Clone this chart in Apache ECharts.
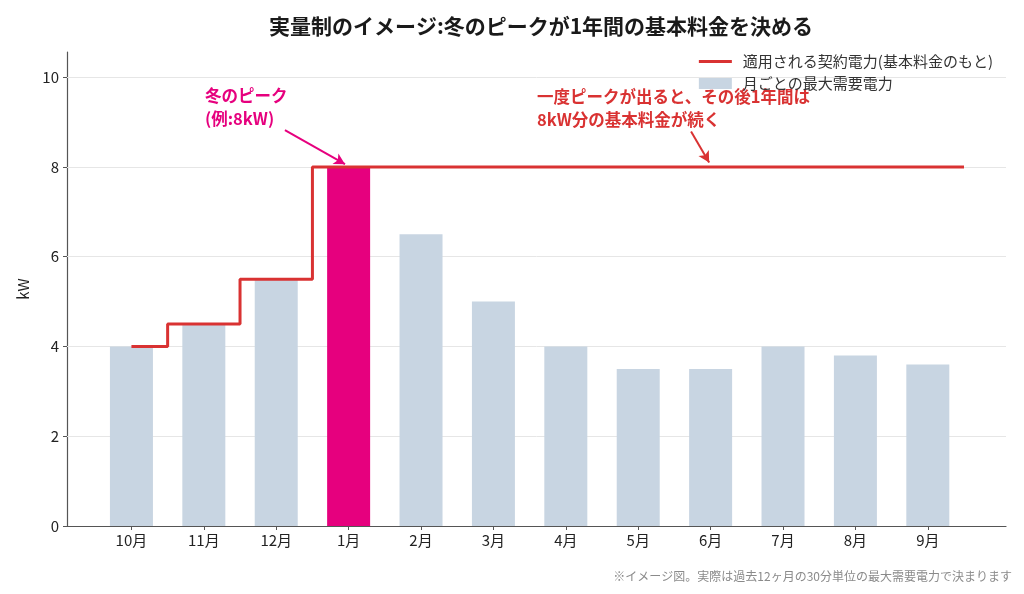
<!DOCTYPE html>
<html>
<head>
<meta charset="utf-8">
<script src="https://cdn.jsdelivr.net/npm/echarts@6/dist/echarts.min.js"></script>
<style>
  html, body {margin: 0; padding: 0; background: #fff;}
  #chart {width: 1024px; height: 594px;}
</style>
</head>
<body>
<div id="chart"></div>
<script>
(function(){
  'use strict';

  /*
    data
  */
  var months   = ['10月', '11月', '12月', '1月', '2月', '3月', '4月', '5月', '6月', '7月', '8月', '9月'];
  var demand   = [4, 4.5, 5.5, 8, 6.5, 5, 4, 3.5, 3.5, 4, 3.8, 3.6];
  var contract = [4, 4.5, 5.5, 8, 8, 8, 8, 8, 8, 8, 8, 8];
  var yTicks   = [0, 2, 4, 6, 8, 10];
  var peakIndex = 3;

  var font = '"Noto Sans CJK JP", "Noto Sans", sans-serif';
  var barColor = '#c8d5e2', peakColor = '#e6007e', lineColor = '#d93232';

  /*
    bar data: [month index, kW]
  */
  var barData = demand.map(function(v, i){
    return {
      value: [i, v],
      itemStyle: {color: i === peakIndex ? peakColor : barColor}
    };
  });

  /*
    step line: change at the boundary between months
  */
  var stepData = [[0, contract[0]]];
  for (var i = 0; i < contract.length - 1; i++) {
    stepData.push([i + 0.5, contract[i]]);
    stepData.push([i + 0.5, contract[i + 1]]);
  }
  stepData.push([contract.length - 0.5, contract[contract.length - 1]]);

  var monthTicks = months.map(function(m, i){ return i; });

  var option = {
    animation: false,
    backgroundColor: '#fff',
    textStyle: {fontFamily: font},
    title: {
      text: '実量制のイメージ:冬のピークが1年間の基本料金を決める',
      left: 536,
      top: 11,
      textAlign: 'center',
      textStyle: {fontSize: 21, fontWeight: 'bold', color: '#1a1a1a', fontFamily: font}
    },
    legend: {
      orient: 'vertical',
      right: 26,
      top: 49,
      itemWidth: 33,
      itemHeight: 11,
      itemGap: 7,
      textStyle: {fontSize: 15, color: '#333', fontFamily: font, padding: [0, 0, 0, 6]},
      data: [
        {name: '適用される契約電力(基本料金のもと)', icon: 'path://M0,4.5 L33,4.5 L33,7.5 L0,7.5 Z'},
        {name: '月ごとの最大需要電力', icon: 'rect'}
      ]
    },
    grid: {left: 67, right: 18, top: 52, bottom: 68},
    xAxis: {
      type: 'value',
      min: -0.89,
      max: 12.08,
      axisLine: {show: true, onZero: false, lineStyle: {color: '#555', width: 1.2}},
      axisTick: {show: true, customValues: monthTicks, length: 4, lineStyle: {color: '#555'}},
      axisLabel: {
        customValues: monthTicks,
        fontSize: 15, color: '#222', margin: 7, fontFamily: font,
        formatter: function(v){ return months[Math.round(v)] || ''; }
      },
      splitLine: {show: false}
    },
    yAxis: {
      type: 'value',
      min: 0,
      max: 10.56,
      name: 'kW',
      nameLocation: 'middle',
      nameGap: 36,
      nameRotate: 90,
      nameTextStyle: {fontSize: 15, color: '#222', fontFamily: font},
      axisLine: {show: true, onZero: false, lineStyle: {color: '#555', width: 1.2}},
      axisTick: {show: true, customValues: yTicks, length: 4, lineStyle: {color: '#555'}},
      axisLabel: {customValues: yTicks, fontSize: 15, color: '#222', margin: 8, fontFamily: font},
      splitLine: {show: false}
    },
    series: [
      {
        name: '月ごとの最大需要電力',
        type: 'bar',
        barWidth: 43,
        itemStyle: {color: barColor},
        data: barData,
        z: 2,
        markLine: {
          silent: true,
          symbol: 'none',
          label: {show: false},
          lineStyle: {color: '#e6e6e6', width: 1, type: 'solid'},
          data: yTicks.slice(1).map(function(t){ return {yAxis: t}; }),
          z: 1
        }
      },
      {
        name: '適用される契約電力(基本料金のもと)',
        type: 'line',
        symbol: 'none',
        itemStyle: {color: lineColor},
        lineStyle: {color: lineColor, width: 3},
        data: stepData,
        z: 4,
        markLine: {
          silent: true,
          symbol: ['none', 'arrow'],
          symbolSize: [9, 11],
          label: {show: false},
          data: [
            [{coord: [2.12, 8.82], lineStyle: {color: peakColor, width: 2, type: 'solid'}}, {coord: [2.95, 8.06]}],
            [{coord: [7.73, 8.79], lineStyle: {color: lineColor, width: 2, type: 'solid'}}, {coord: [7.98, 8.1]}]
          ]
        }
      }
    ],
    graphic: [
      {
        type: 'text', left: 205, top: 84, z: 0,
        style: {
          text: '冬のピーク\n(例:8kW)',
          fill: peakColor, font: 'bold 16.5px ' + font, lineHeight: 23
        }
      },
      {
        type: 'text', left: 537, top: 85, z: 0,
        style: {
          text: '一度ピークが出ると、その後1年間は\n8kW分の基本料金が続く',
          fill: lineColor, font: 'bold 16.5px ' + font, lineHeight: 23
        }
      },
      {
        type: 'text', right: 12, top: 570,
        style: {
          text: '※イメージ図。実際は過去12ヶ月の30分単位の最大需要電力で決まります',
          fill: '#8a8a8a', font: '12px ' + font
        }
      }
    ]
  };

  echarts.init(document.getElementById('chart')).setOption(option);
})();
</script>
</body>
</html>
